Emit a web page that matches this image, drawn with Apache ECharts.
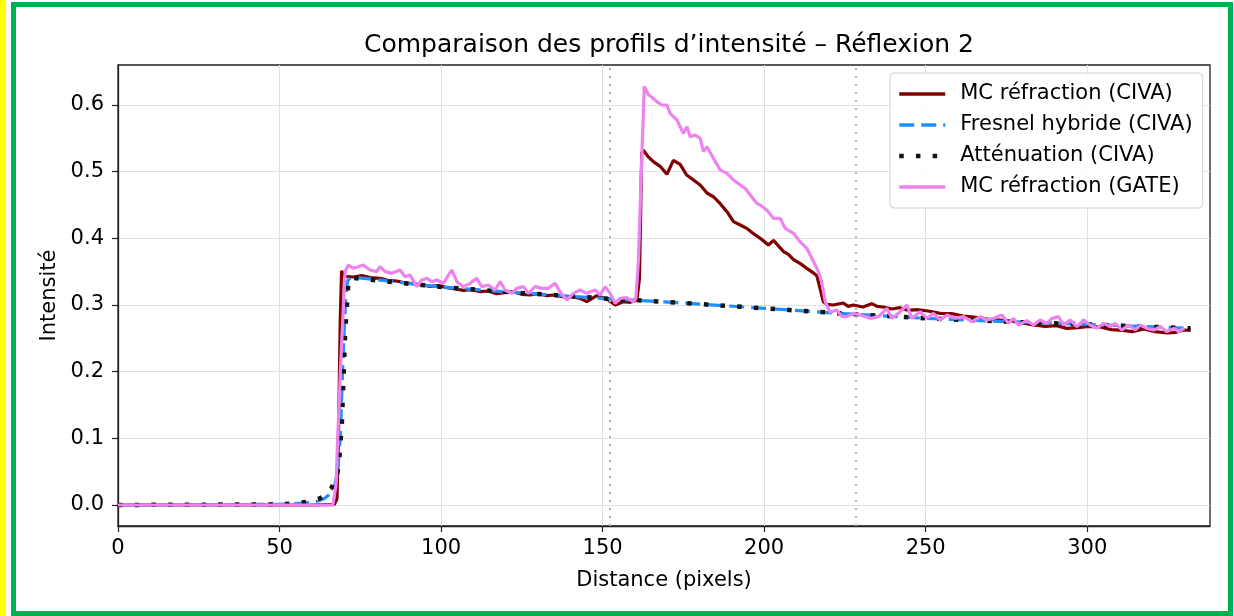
<!DOCTYPE html>
<html>
<head>
<meta charset="utf-8">
<title>Comparaison des profils d’intensité – Réflexion 2</title>
<script src="https://cdn.jsdelivr.net/npm/echarts@6/dist/echarts.min.js"></script>
<style>
  html, body { margin: 0; padding: 0; background: #fff; }
  #chart { width: 1234px; height: 616px; }
</style>
</head>
<body>
<div id="chart"></div>
<script>
// MC réfraction (CIVA)
const xMcCiva = [0, 60, 67, 67.8, 68.3, 68.8, 69.2, 70.3, 72.8, 75.5, 78, 81.1, 83.5, 86.3, 89, 91.4, 94, 96.6, 99, 101.8,
  104.5, 106.9, 109.5, 112.1, 114.5, 117.2, 120, 122.4, 125, 127.6, 130, 132.7, 135, 137.9, 140.5, 143, 145.1, 148.2, 151.3, 153.9,
  156.4, 158.5, 160.6, 161.4, 162.1, 162.6, 164, 165.7, 167.8, 169.9, 171.9, 174, 176, 178, 180.2, 182.3, 184.4, 186.4, 188.5, 190.5,
  192.6, 194.6, 196.7, 198.8, 201.3, 202.9, 206, 207.5, 209.1, 211.2, 213.2, 215, 216.3, 217.3, 218.3, 219.4, 221.4, 224.5, 226, 227.6,
  230.6, 233.3, 235, 236.9, 239.5, 242, 244.5, 247.3, 250.8, 254.5, 258, 261.7, 265, 269, 273, 276.5, 280, 283.3, 287, 290.5,
  293.7, 297, 300.5, 304, 307.5, 311, 314, 317.5, 321, 324.7, 327.5, 329.8, 332];
const yMcCiva = [0, 0, 0.001, 0.01, 0.12, 0.28, 0.351, 0.343, 0.342, 0.344, 0.341, 0.340, 0.337, 0.336, 0.333, 0.332, 0.330, 0.328, 0.329, 0.326,
  0.324, 0.322, 0.323, 0.320, 0.321, 0.317, 0.319, 0.320, 0.316, 0.315, 0.317, 0.314, 0.315, 0.312, 0.313, 0.310, 0.305, 0.314, 0.309, 0.300,
  0.305, 0.304, 0.307, 0.34, 0.5275, 0.532, 0.523, 0.515, 0.508, 0.496, 0.517, 0.511, 0.495, 0.488, 0.480, 0.468, 0.462, 0.452, 0.440, 0.425,
  0.420, 0.415, 0.407, 0.400, 0.390, 0.397, 0.380, 0.376, 0.368, 0.362, 0.355, 0.349, 0.344, 0.325, 0.305, 0.301, 0.300, 0.303, 0.298, 0.300,
  0.297, 0.302, 0.298, 0.297, 0.294, 0.296, 0.292, 0.293, 0.291, 0.2875, 0.287, 0.2835, 0.282, 0.279, 0.2775, 0.276, 0.273, 0.270, 0.268, 0.269,
  0.265, 0.266, 0.268, 0.267, 0.263, 0.262, 0.260, 0.264, 0.260, 0.258, 0.259, 0.2625, 0.262];

// Fresnel hybride (CIVA)
const xFresnel = [0, 50, 58, 62, 64, 66, 67, 68, 68.8, 69.5, 70, 70.5, 71, 72, 80, 100, 125, 150, 175, 200, 225, 250, 275, 300, 332];
const yFresnel = [0, 0.001, 0.003, 0.006, 0.01, 0.018, 0.028, 0.05, 0.1, 0.2, 0.26, 0.31, 0.335, 0.342, 0.338, 0.327, 0.318, 0.310, 0.303, 0.295, 0.287, 0.280, 0.275, 0.271, 0.265];

// Atténuation (CIVA)
const xAtten = [0, 50, 56, 60, 62.5, 64, 66, 67, 68, 68.4, 69.3, 70.3, 71.3, 72, 80, 100, 125, 150, 175, 200, 225, 250, 275, 300, 332];
const yAtten = [0, 0.001, 0.003, 0.006, 0.01, 0.014, 0.025, 0.035, 0.05, 0.063, 0.123, 0.258, 0.333, 0.341, 0.337, 0.327, 0.318, 0.310, 0.303, 0.295, 0.287, 0.280, 0.275, 0.271, 0.265];

// MC réfraction (GATE)
const xGate = [0, 66.5, 67.5, 68, 69, 70, 70.3, 71.3, 72.8, 74.4, 75.9, 78, 80.1, 81.1, 82.7, 84.7, 87.3, 88.9, 90.4, 92.5,
  94, 95.6, 97.1, 98.7, 100.7, 102.3, 103.3, 104.9, 106.9, 109, 111, 112.6, 114.6, 116.7, 118.3, 119.8, 121.9, 123.4, 125.5, 127,
  129.1, 131.2, 133.2, 135.3, 136.8, 138.9, 141, 143, 145.1, 147.7, 149.2, 150.8, 152.3, 153.9, 155.4, 157.5, 159.5, 160.3, 161.1, 162.1,
  162.9, 164.2, 165.2, 166.8, 168.3, 169.9, 170.9, 173, 175, 176.1, 177.1, 178.6, 180.2, 181.2, 182.3, 184.3, 186.4, 188.5, 190.5, 192.6,
  194.1, 195.7, 197.7, 198.8, 200.8, 202.9, 205, 206.5, 209.1, 211.1, 213.2, 215.3, 216.8, 217.8, 218.9, 220.4, 222.5, 224, 225.6, 227.6,
  229.7, 232.8, 235.4, 238, 239.5, 241.6, 244.2, 245.7, 248.3, 250.4, 252.4, 254.5, 256.6, 259.1, 261.7, 264.3, 266.9, 268.9, 271, 273.6,
  275.6, 277.2, 278.7, 281.3, 283.4, 285.4, 287.5, 289.1, 291.1, 292.7, 294.7, 296.8, 298.9, 300.9, 303, 305.1, 307.1, 308.7, 310.7, 312.8,
  314.9, 316.4, 318.5, 320.6, 322.6, 324.7, 326.8, 328.3, 330];
const yGate = [0, 0, 0.03, 0.1, 0.22, 0.32, 0.35, 0.36, 0.355, 0.3575, 0.36, 0.3525, 0.35, 0.3575, 0.35, 0.3475, 0.3525, 0.3425, 0.345, 0.3275,
  0.3375, 0.34, 0.335, 0.3375, 0.3325, 0.345, 0.3525, 0.335, 0.3275, 0.3325, 0.34, 0.3275, 0.33, 0.3225, 0.335, 0.3225, 0.3175, 0.325, 0.3275, 0.3175,
  0.3275, 0.325, 0.325, 0.3325, 0.32, 0.3075, 0.3175, 0.3225, 0.3175, 0.3225, 0.315, 0.3275, 0.3175, 0.3025, 0.31, 0.311, 0.305, 0.31, 0.3675, 0.5175,
  0.628, 0.615, 0.612, 0.605, 0.600, 0.600, 0.5875, 0.5775, 0.5575, 0.5675, 0.5525, 0.555, 0.55, 0.53, 0.5375, 0.52, 0.5025, 0.4975, 0.4875, 0.48,
  0.475, 0.465, 0.4525, 0.45, 0.4425, 0.43, 0.43, 0.415, 0.4075, 0.395, 0.385, 0.365, 0.35, 0.335, 0.305, 0.289, 0.2925, 0.283, 0.2825, 0.2875,
  0.285, 0.28, 0.2825, 0.295, 0.28, 0.2875, 0.30, 0.28, 0.29, 0.28, 0.2875, 0.2775, 0.285, 0.28, 0.2825, 0.275, 0.2825, 0.2775, 0.28, 0.285,
  0.2725, 0.28, 0.27, 0.2765, 0.27, 0.2775, 0.2725, 0.28, 0.2825, 0.27, 0.2775, 0.2675, 0.2775, 0.27, 0.265, 0.2725, 0.2675, 0.2725, 0.2625, 0.27,
  0.2625, 0.27, 0.265, 0.2625, 0.2675, 0.26, 0.265, 0.26, 0.265];

// vertical reference lines + ticks
const vLines = [152.2, 228.4];
const xTicks = [0, 50, 100, 150, 200, 250, 300];
const yTicks = [0, 0.1, 0.2, 0.3, 0.4, 0.5, 0.6];

function zip(xs, ys) {
  return xs.map((x, i) => [x, ys[i]]);
}

const font = "'DejaVu Sans', sans-serif";
const chart = echarts.init(document.getElementById("chart"));

const cMc = "#800000", cFresnel = "#1e90ff", cAtten = "#151515", cGate = "#ee82ee";

chart.setOption({
  animation: false,
  backgroundColor: "#fff",
  title: {
    text: "Comparaison des profils d’intensité – Réflexion 2",
    left: 664,
    textAlign: "center",
    top: 28,
    textStyle: { fontFamily: font, fontSize: 25, fontWeight: "normal", color: "#000" },
  },
  grid: {
    left: 118,
    right: 24,
    top: 65,
    bottom: 90,
    show: true,
    borderColor: "#222",
    borderWidth: 1.3,
    backgroundColor: "transparent",
  },
  legend: {
    orient: "vertical",
    left: 890,
    top: 73,
    padding: [9, 10, 9, 7],
    itemGap: 7,
    itemWidth: 46,
    itemHeight: 14,
    backgroundColor: "rgba(255,255,255,0.85)",
    borderColor: "#d0d0d0",
    borderWidth: 1,
    borderRadius: 4,
    itemStyle: { opacity: 0 },
    textStyle: { fontFamily: font, fontSize: 21, color: "#000", lineHeight: 24, padding: [0, 0, 0, 10] },
    data: [
      { name: "MC réfraction (CIVA)", lineStyle: { color: cMc, width: 3.5 } },
      { name: "Fresnel hybride (CIVA)", lineStyle: { color: cFresnel, width: 3.5, type: [15, 7] } },
      { name: "Atténuation (CIVA)", lineStyle: { color: cAtten, width: 4.5, type: [4.5, 12.2], cap: "butt" } },
      { name: "MC réfraction (GATE)", lineStyle: { color: cGate, width: 3.5 } },
    ],
  },
  xAxis: {
    type: "value",
    min: 0,
    max: 338,
    name: "Distance (pixels)",
    nameLocation: "middle",
    nameGap: 44,
    nameTextStyle: { fontFamily: font, fontSize: 21, color: "#000" },
    axisLine: { show: true, onZero: false, lineStyle: { color: "#222", width: 1.3 } },
    axisTick: { show: true, length: 6, lineStyle: { color: "#222", width: 1.2 }, customValues: xTicks },
    axisLabel: { fontFamily: font, fontSize: 21, color: "#000", margin: 12, customValues: xTicks },
    splitLine: { show: true, lineStyle: { color: "#e0e0e0", width: 1 } },
  },
  yAxis: {
    type: "value",
    min: -0.0315,
    max: 0.66,
    name: "Intensité",
    nameLocation: "middle",
    nameRotate: 90,
    nameGap: 55,
    nameTextStyle: { fontFamily: font, fontSize: 21, color: "#000" },
    axisLine: { show: true, onZero: false, lineStyle: { color: "#222", width: 1.3 } },
    axisTick: { show: true, length: 6, lineStyle: { color: "#222", width: 1.2 }, customValues: yTicks },
    axisLabel: {
      fontFamily: font, fontSize: 21, color: "#000", margin: 14, customValues: yTicks,
      formatter: (v) => v.toFixed(1),
    },
    splitLine: { show: true, lineStyle: { color: "#e0e0e0", width: 1 } },
  },
  series: [
    {
      name: "MC réfraction (CIVA)",
      type: "line",
      data: zip(xMcCiva, yMcCiva),
      symbol: "none",
      lineStyle: { color: cMc, width: 3.2 },
      itemStyle: { color: cMc },
      markLine: {
        silent: true,
        symbol: "none",
        label: { show: false },
        lineStyle: { color: "#b0b0b0", width: 2, type: [2, 6] },
        data: vLines.map((v) => ({ xAxis: v })),
      },
    },
    {
      name: "Fresnel hybride (CIVA)",
      type: "line",
      data: zip(xFresnel, yFresnel),
      symbol: "none",
      lineStyle: { color: cFresnel, width: 3.2, type: [15, 7] },
      itemStyle: { color: cFresnel },
    },
    {
      name: "Atténuation (CIVA)",
      type: "line",
      data: zip(xAtten, yAtten),
      symbol: "none",
      lineStyle: { color: cAtten, width: 4.5, type: [4.5, 12.2], cap: "butt" },
      itemStyle: { color: cAtten },
    },
    {
      name: "MC réfraction (GATE)",
      type: "line",
      data: zip(xGate, yGate),
      symbol: "none",
      lineStyle: { color: cGate, width: 3.2 },
      itemStyle: { color: cGate },
    },
  ],
  graphic: [
    { type: "rect", silent: true, shape: { x: 0, y: 0, width: 6, height: 616 }, style: { fill: "#ffff00" } },
    { type: "rect", silent: true, shape: { x: 13.5, y: 4.5, width: 1217, height: 609 }, style: { fill: "none", stroke: "#00b050", lineWidth: 5 } },
  ],
});
</script>
</body>
</html>
